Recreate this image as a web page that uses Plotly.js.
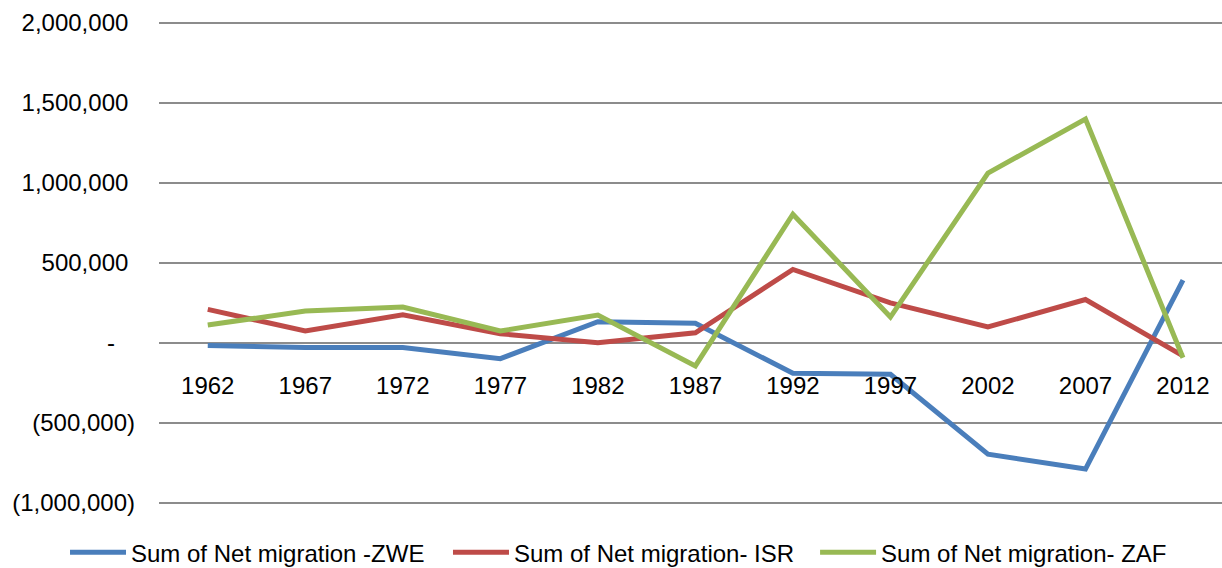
<!DOCTYPE html>
<html>
<head>
<meta charset="utf-8">
<script src="https://cdn.plot.ly/plotly-3.0.1.min.js"></script>
<style>
  html, body { margin: 0; padding: 0; background: #fff; overflow: hidden; }
  #chart { width: 1222px; height: 568px; }
</style>
</head>
<body>
<div id="chart"></div>
<script>
const years = ["1962", "1967", "1972", "1977", "1982", "1987", "1992", "1997", "2002", "2007", "2012"];
const zwe = [-15000, -28000, -28000, -98000, 133000, 123000, -189000, -195000, -695000, -788000, 393000];
const isr = [210000, 75000, 177000, 58000, 2000, 64000, 460000, 251000, 100000, 272000, -81000];
const zaf = [112000, 200000, 225000, 75000, 175000, -143000, 805000, 162000, 1062000, 1399000, -92000];
const seriesNames = ["Sum of Net migration -ZWE", "Sum of Net migration- ISR", "Sum of Net migration- ZAF"];
const yTickVals = [-1000000, -500000, 0, 500000, 1000000, 1500000, 2000000];
const yTickText = ["(1,000,000)", "(500,000)", "-\u00a0\u00a0\u00a0", "500,000\u00a0", "1,000,000\u00a0", "1,500,000\u00a0", "2,000,000\u00a0"];

const font = "'Liberation Sans', Arial, sans-serif";
const colors = ["#4A7EBB", "#BE4B48", "#98B954"];
const legendIds = ["legend", "legend2", "legend3"];
const legendX = [0.0532, 0.3666, 0.667];

const data = [zwe, isr, zaf].map((vals, i) => ({
  x: years,
  y: vals,
  type: "scatter",
  mode: "lines",
  name: seriesNames[i],
  legend: legendIds[i],
  line: { color: colors[i], width: 5 }
}));

const layout = {
  width: 1222,
  height: 568,
  margin: { l: 159, r: 0, t: 14.5, b: 57, autoexpand: false },
  paper_bgcolor: "#fff",
  plot_bgcolor: "#fff",
  font: { family: font, size: 24, color: "#000" },
  showlegend: true,
  xaxis: {
    type: "category",
    range: [-0.5, 10.4],
    anchor: "free",
    position: 1050000 / 3100000,
    showgrid: false,
    showline: false,
    zeroline: false,
    ticks: "",
    ticklabelstandoff: 26,
    tickfont: { family: font, size: 24, color: "#000" }
  },
  yaxis: {
    range: [-1050000, 2050000],
    tickvals: yTickVals,
    ticktext: yTickText,
    showgrid: true,
    gridcolor: "#8c8c8c",
    gridwidth: 2,
    zeroline: false,
    showline: false,
    ticks: "",
    ticklabelstandoff: 23,
    tickfont: { family: font, size: 24, color: "#000" }
  }
};

legendIds.forEach((id, i) => {
  layout[id] = {
    orientation: "h",
    xref: "container",
    yref: "container",
    x: legendX[i],
    xanchor: "left",
    y: 0.027,
    yanchor: "middle",
    itemwidth: 56,
    bgcolor: "rgba(0,0,0,0)",
    font: { family: font, size: 24, color: "#000" }
  };
});

Plotly.newPlot("chart", data, layout, { displayModeBar: false, staticPlot: true });
</script>
</body>
</html>
